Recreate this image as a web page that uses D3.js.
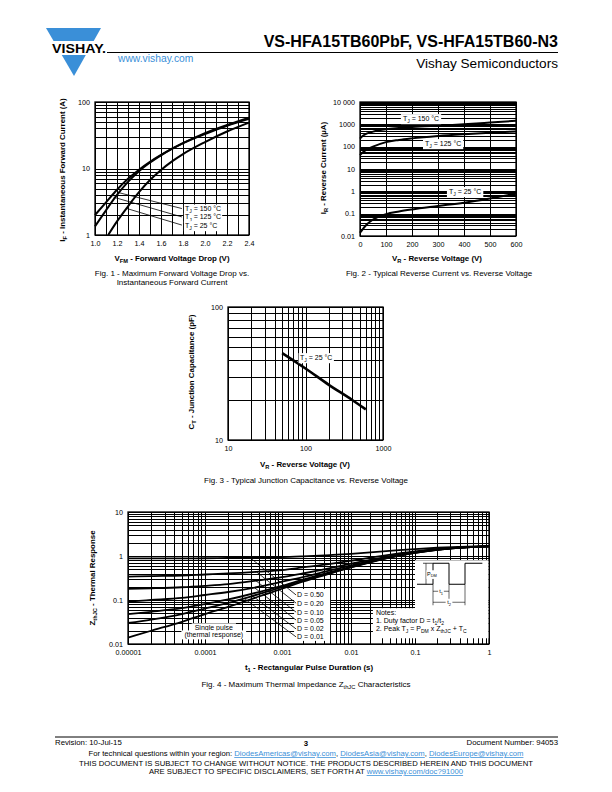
<!DOCTYPE html>
<html><head><meta charset="utf-8">
<script src="https://cdn.jsdelivr.net/npm/d3@7"></script>
<style>body{margin:0;background:#fff}svg{font-family:"Liberation Sans",Arial,Helvetica,sans-serif}</style>
</head><body>
<svg id="page" width="612" height="792" xmlns="http://www.w3.org/2000/svg"></svg>
<script>
// ---------------- DATA ----------------
// Fig 1: forward voltage (V) vs forward current (A)
const fig1V = [1.0, 1.1, 1.2, 1.3, 1.4, 1.5, 1.6, 1.8, 2.0, 2.2, 2.4];
const fig1I150 = [2.0, 3.1, 4.8, 7.0, 9.6, 12.6, 16, 24, 33, 44, 56];
const fig1I125 = [1.35, 2.35, 4.0, 6.3, 9.1, 12.3, 15.8, 24, 34, 45, 58];
const fig1V25 = [1.12, 1.2, 1.3, 1.4, 1.5, 1.6, 1.7, 1.8, 2.0, 2.2, 2.4];
const fig1I25 = [1.0, 1.6, 2.7, 4.4, 6.7, 9.5, 12.8, 16.5, 25, 36, 49];
const fig1Labels = ["150", "125", "25"];
const fig1LeaderFrom = [[1.79, 2.5], [1.79, 1.87], [1.79, 1.41]];
const fig1LeaderTo = [[1.2, 4.4], [1.17, 3.7], [1.29, 2.5]];
const fig1XTicks = [1.0, 1.2, 1.4, 1.6, 1.8, 2.0, 2.2, 2.4];
const fig1YTicks = [1, 10, 100];

// Fig 2: reverse voltage (V) vs reverse current (uA)
const fig2V = [0, 10, 25, 50, 100, 150, 200, 300, 400, 500, 600];
const fig2I150 = [230, 300, 380, 470, 600, 680, 750, 870, 1000, 1200, 1450];
const fig2I125 = [42, 55, 72, 100, 160, 200, 235, 300, 360, 420, 480];
const fig2I25 = [0.014, 0.02, 0.032, 0.055, 0.095, 0.125, 0.155, 0.22, 0.31, 0.48, 0.78];
const fig2Labels = ["150", "125", "25"];
const fig2LabelPos = [[165, 1900], [250, 145], [342, 1.03]];
const fig2XTicks = [0, 100, 200, 300, 400, 500, 600];
const fig2YTicks = [0.01, 0.1, 1, 10, 100, 1000, 10000];
const fig2YTickText = ["0.01", "0.1", "1", "10", "100", "1000", "10 000"];

// Fig 3: reverse voltage (V) vs junction capacitance (pF)
const fig3V = [50, 100, 200, 400, 600];
const fig3C = [45, 34.5, 26, 20, 17];
const fig3LabelPos = [85, 42];
const fig3XTicks = [10, 100, 1000];
const fig3YTicks = [10, 100];

// Fig 4: pulse duration (s) vs thermal response
const fig4T = [1e-5, 2e-5, 5e-5, 1e-4, 2e-4, 5e-4, 1e-3, 2e-3, 5e-3, 1e-2, 2e-2, 5e-2, 0.1, 0.2, 0.5, 1];
const fig4D50 = [0.88, 0.88, 0.88, 0.89, 0.90, 0.92, 0.94, 0.98, 1.05, 1.12, 1.21, 1.34, 1.44, 1.54, 1.64, 1.68];
const fig4D20 = [0.34, 0.35, 0.36, 0.38, 0.40, 0.44, 0.48, 0.55, 0.66, 0.78, 0.92, 1.12, 1.28, 1.44, 1.60, 1.67];
const fig4D10 = [0.18, 0.185, 0.195, 0.21, 0.23, 0.28, 0.33, 0.40, 0.53, 0.67, 0.82, 1.05, 1.23, 1.41, 1.59, 1.66];
const fig4D05 = [0.092, 0.10, 0.112, 0.13, 0.152, 0.20, 0.26, 0.33, 0.47, 0.61, 0.77, 1.02, 1.21, 1.40, 1.59, 1.66];
const fig4D02 = [0.048, 0.054, 0.065, 0.081, 0.103, 0.152, 0.21, 0.29, 0.43, 0.57, 0.74, 0.99, 1.19, 1.39, 1.58, 1.66];
const fig4D01 = [0.030, 0.036, 0.048, 0.064, 0.086, 0.136, 0.195, 0.274, 0.41, 0.56, 0.73, 0.99, 1.18, 1.38, 1.58, 1.66];
const fig4Single = [0.014, 0.020, 0.032, 0.048, 0.070, 0.12, 0.18, 0.26, 0.40, 0.55, 0.72, 0.98, 1.18, 1.38, 1.58, 1.66];
const fig4DLabels = ["D = 0.50", "D = 0.20", "D = 0.10", "D = 0.05", "D = 0.02", "D = 0.01"];
const fig4LabelZ = [0.13, 0.085, 0.053, 0.035, 0.022, 0.0145];
const fig4LeaderTo = [[3.9e-4, 0.9], [4.7e-4, 0.43], [4.4e-4, 0.29], [4.4e-4, 0.19], [4.0e-4, 0.13], [3.2e-4, 0.11]];
const fig4XTicks = [1e-5, 1e-4, 1e-3, 1e-2, 1e-1, 1];
const fig4XTickText = ["0.00001", "0.0001", "0.001", "0.01", "0.1", "1"];
const fig4YTicks = [0.01, 0.1, 1, 10];
const fig4YTickText = ["0.01", "0.1", "1", "10"];

// ---------------- HELPERS ----------------
const svg = d3.select("#page");
const BLUE = "#3a8fd8";
const snap = v => Math.round(v) + 0.5;

function addText(g, x, y, parts, o = {}) {
  const size = o.size || 7;
  const t = g.append("text").attr("x", x).attr("y", y)
    .attr("font-size", size)
    .attr("font-weight", o.bold ? "bold" : null)
    .attr("text-anchor", o.anchor || "start")
    .attr("fill", o.fill || "#000");
  if (o.rotate) t.attr("transform", `rotate(-90,${x},${y})`);
  let shifted = 0;
  parts.forEach(p => {
    const sp = t.append("tspan");
    if (typeof p === "string") {
      if (shifted) { sp.attr("dy", -shifted); shifted = 0; }
      sp.text(p);
    } else {
      const d = size * 0.3;
      sp.attr("dy", d - shifted).attr("font-size", size * 0.72).text(p.sub);
      shifted = d;
    }
  });
  if (o.bg !== undefined) {
    const b = t.node().getBBox();
    g.insert("rect", () => t.node())
      .attr("x", b.x - o.bg).attr("y", b.y - 0.5)
      .attr("width", b.width + 2 * o.bg).attr("height", b.height + 1)
      .attr("fill", "#fff");
  }
  return t;
}

function logGrid(min, max) {
  const out = [];
  for (let e = Math.floor(Math.log10(min)); e < Math.ceil(Math.log10(max)); e++)
    for (let k = 1; k <= 9; k++) {
      const v = k * Math.pow(10, e);
      if (v >= min * 0.999 && v <= max * 1.001) out.push(v);
    }
  out.push(max);
  return out;
}

function drawFrame(g, x, y, xGrid, yGrid) {
  const xr = x.range(), yr = y.range();
  const x0 = xr[0], x1 = xr[xr.length - 1], y0 = yr[0], y1 = yr[yr.length - 1];
  g.append("g").selectAll("line").data(xGrid).join("line")
    .attr("x1", d => snap(x(d))).attr("x2", d => snap(x(d))).attr("y1", y0).attr("y2", y1)
    .attr("stroke", "#000").attr("stroke-width", 1);
  g.append("g").selectAll("line").data(yGrid).join("line")
    .attr("y1", d => snap(y(d))).attr("y2", d => snap(y(d))).attr("x1", x0).attr("x2", x1)
    .attr("stroke", "#000").attr("stroke-width", 1);
  g.append("rect").attr("x", x0).attr("y", y1).attr("width", x1 - x0).attr("height", y0 - y1)
    .attr("fill", "none").attr("stroke", "#000").attr("stroke-width", 1.3);
}

function drawAxes(g, x, y, xt, yt, xf, yf) {
  const ax = g.append("g").attr("transform", `translate(0,${y.range()[0]})`)
    .call(d3.axisBottom(x).tickValues(xt).tickSize(0).tickPadding(6).tickFormat(xf));
  const ay = g.append("g").attr("transform", `translate(${x.range()[0]},0)`)
    .call(d3.axisLeft(y).tickValues(yt).tickSize(0).tickPadding(5).tickFormat(yf));
  [ax, ay].forEach(a => {
    a.select(".domain").remove();
    a.selectAll("text").attr("font-size", 7.2).attr("font-family", "'Liberation Sans',Arial,sans-serif").attr("fill", "#000");
  });
}

function curve(g, x, y, xs, ys, w) {
  const line = d3.line().x(d => x(d[0])).y(d => y(d[1])).curve(d3.curveMonotoneX);
  g.append("path").attr("d", line(d3.zip(xs, ys)))
    .attr("fill", "none").attr("stroke", "#000").attr("stroke-width", w);
}

// ---------------- HEADER ----------------
const hdr = svg.append("g");
hdr.append("path").attr("d", "M46,28 L101,28 L74,76 Z").attr("fill", BLUE);
hdr.append("rect").attr("x", 44).attr("y", 41).attr("width", 66).attr("height", 14).attr("fill", "#fff");
addText(hdr, 79, 53, ["VISHAY."], { size: 13, bold: true, anchor: "middle" }).attr("textLength", 54).attr("lengthAdjust", "spacingAndGlyphs");
addText(hdr, 558, 47, ["VS-HFA15TB60PbF, VS-HFA15TB60-N3"], { size: 16, bold: true, anchor: "end" });
hdr.append("line").attr("x1", 107).attr("x2", 558).attr("y1", 52.5).attr("y2", 52.5).attr("stroke", "#000").attr("stroke-width", 1);
addText(hdr, 118, 62, ["www.vishay.com"], { size: 10.3, fill: BLUE });
addText(hdr, 558, 68, ["Vishay Semiconductors"], { size: 13.6, anchor: "end" });

// ---------------- FIG 1 ----------------
{
  const g = svg.append("g");
  const x = d3.scaleLinear().domain([1.0, 2.4]).range([95, 249]);
  const y = d3.scaleLog().domain([1, 100]).range([235, 102]);
  const xGrid = d3.range(1.0, 2.401, 0.1);
  drawFrame(g, x, y, xGrid, logGrid(1, 100));
  drawAxes(g, x, y, fig1XTicks, fig1YTicks, d3.format(".1f"), d3.format("d"));
  curve(g, x, y, fig1V, fig1I150, 2);
  curve(g, x, y, fig1V, fig1I125, 2);
  curve(g, x, y, fig1V25, fig1I25, 2);
  fig1LeaderFrom.forEach((p, i) => {
    g.append("line").attr("x1", x(p[0])).attr("y1", y(p[1]))
      .attr("x2", x(fig1LeaderTo[i][0])).attr("y2", y(fig1LeaderTo[i][1]))
      .attr("stroke", "#000").attr("stroke-width", 0.8);
    addText(g, x(p[0]) + 3, y(p[1]) + 2.5, ["T", { sub: "J" }, ` = ${fig1Labels[i]} °C`], { size: 7, bg: 1 });
  });
  addText(g, 172, 261, ["V", { sub: "FM" }, " - Forward Voltage Drop (V)"], { size: 7.9, bold: true, anchor: "middle" });
  addText(g, 65, 170, ["I", { sub: "F" }, " - Instantaneous Forward Current (A)"], { size: 7.9, bold: true, anchor: "middle", rotate: true });
  addText(g, 172, 276, ["Fig. 1 - Maximum Forward Voltage Drop vs."], { size: 8, anchor: "middle" });
  addText(g, 172, 285, ["Instantaneous Forward Current"], { size: 8, anchor: "middle" });
}

// ---------------- FIG 2 ----------------
{
  const g = svg.append("g");
  const x = d3.scaleLinear().domain([0, 600]).range([360, 516]);
  const y = d3.scaleLog().domain([0.01, 10000]).range([236, 102]);
  drawFrame(g, x, y, d3.range(0, 601, 100), logGrid(0.01, 10000));
  drawAxes(g, x, y, fig2XTicks, fig2YTicks, d3.format("d"), (d, i) => fig2YTickText[i]);
  curve(g, x, y, fig2V, fig2I150, 2);
  curve(g, x, y, fig2V, fig2I125, 2);
  curve(g, x, y, fig2V, fig2I25, 2);
  fig2LabelPos.forEach((p, i) => {
    addText(g, x(p[0]), y(p[1]) + 2.5, ["T", { sub: "J" }, ` = ${fig2Labels[i]} °C`], { size: 7, bg: 2 });
  });
  addText(g, 437, 261, ["V", { sub: "R" }, " - Reverse Voltage (V)"], { size: 7.9, bold: true, anchor: "middle" });
  addText(g, 326, 168, ["I", { sub: "R" }, " - Reverse Current (µA)"], { size: 7.9, bold: true, anchor: "middle", rotate: true });
  addText(g, 439, 276, ["Fig. 2 - Typical Reverse Current vs. Reverse Voltage"], { size: 8, anchor: "middle" });
}

// ---------------- FIG 3 ----------------
{
  const g = svg.append("g");
  const x = d3.scaleLog().domain([10, 1000]).range([228, 383]);
  const y = d3.scaleLog().domain([10, 100]).range([440, 307]);
  drawFrame(g, x, y, logGrid(10, 1000), logGrid(10, 100));
  drawAxes(g, x, y, fig3XTicks, fig3YTicks, d3.format("d"), d3.format("d"));
  curve(g, x, y, fig3V, fig3C, 2.6);
  addText(g, x(fig3LabelPos[0]), y(fig3LabelPos[1]) + 2.5, ["T", { sub: "J" }, " = 25 °C"], { size: 7, bg: 1.5 });
  addText(g, 305, 467, ["V", { sub: "R" }, " - Reverse Voltage (V)"], { size: 7.9, bold: true, anchor: "middle" });
  addText(g, 194, 372, ["C", { sub: "T" }, " - Junction Capacitance (pF)"], { size: 7.9, bold: true, anchor: "middle", rotate: true });
  addText(g, 306, 483, ["Fig. 3 - Typical Junction Capacitance vs. Reverse Voltage"], { size: 8, anchor: "middle" });
}

// ---------------- FIG 4 ----------------
{
  const g = svg.append("g");
  const x = d3.scaleLog().domain([1e-5, 1e-4, 1e-3, 1e-2, 1e-1, 1]).range([128, 205, 282, 351, 415, 489]);
  const y = d3.scaleLog().domain([0.01, 10]).range([644, 512]);
  drawFrame(g, x, y, logGrid(1e-5, 1), logGrid(0.01, 10));
  drawAxes(g, x, y, fig4XTicks, fig4YTicks, (d, i) => fig4XTickText[i], (d, i) => fig4YTickText[i]);
  [fig4D50, fig4D20, fig4D10, fig4D05, fig4D02, fig4D01, fig4Single].forEach(s => curve(g, x, y, fig4T, s, 1.8));

  // D labels with white background
  const lx = x(1.6e-3);
  g.append("rect").attr("x", lx - 2).attr("y", y(fig4LabelZ[0]) - 6)
    .attr("width", 36).attr("height", y(fig4LabelZ[5]) - y(fig4LabelZ[0]) + 10).attr("fill", "#fff");
  fig4DLabels.forEach((lab, i) => {
    g.append("line").attr("x1", lx).attr("y1", y(fig4LabelZ[i]))
      .attr("x2", x(fig4LeaderTo[i][0])).attr("y2", y(fig4LeaderTo[i][1]))
      .attr("stroke", "#000").attr("stroke-width", 0.8);
    addText(g, lx + 1, y(fig4LabelZ[i]) + 2.5, [lab], { size: 7 });
  });

  // Single pulse
  addText(g, x(1.3e-4), y(0.021), ["Single pulse"], { size: 7, anchor: "middle", bg: 3 });
  addText(g, x(1.3e-4), y(0.0145), ["(thermal response)"], { size: 7, anchor: "middle", bg: 3 });

  // Notes box + pulse diagram
  const nx0 = x(0.022), ny0 = y(0.065), nx1 = x(0.98), ny1 = y(0.0135);
  const bx0 = x(0.1), by0 = y(0.8);
  g.append("rect").attr("x", bx0).attr("y", by0).attr("width", nx1 - bx0).attr("height", ny0 - by0 + 1).attr("fill", "#fff");
  g.append("rect").attr("x", nx0).attr("y", ny0).attr("width", nx1 - nx0).attr("height", ny1 - ny0).attr("fill", "#fff");
  addText(g, nx0 + 3, ny0 + 7, ["Notes:"], { size: 7 });
  addText(g, nx0 + 3, ny0 + 15, ["1. Duty factor D = t", { sub: "1" }, "/t", { sub: "2" }], { size: 7 });
  addText(g, nx0 + 3, ny0 + 23, ["2. Peak T", { sub: "J" }, " = P", { sub: "DM" }, " x Z", { sub: "thJC" }, " + T", { sub: "C" }], { size: 7 });

  // pulse waveform
  const hi = by0 + 3, lo = by0 + 24;
  const p0 = bx0 + 2, pA = bx0 + 18, pB = bx0 + 34, pC = bx0 + 50, pEnd = nx1 - 6;
  g.append("path").attr("d", `M${p0},${lo} L${pA},${lo} L${pA},${hi} L${pB},${hi} L${pB},${lo} L${pC},${lo} L${pC},${hi} L${pEnd},${hi}`)
    .attr("fill", "none").attr("stroke", "#000").attr("stroke-width", 1);
  g.append("line").attr("x1", bx0 + 8).attr("x2", pA).attr("y1", hi).attr("y2", hi).attr("stroke", "#000").attr("stroke-width", 0.7);
  g.append("line").attr("x1", bx0 + 11).attr("x2", bx0 + 11).attr("y1", hi).attr("y2", lo).attr("stroke", "#000").attr("stroke-width", 0.6);
  addText(g, bx0 + 12, (hi + lo) / 2 + 2, ["P", { sub: "DM" }], { size: 5.5, bg: 0.5 });
  [pA, pB, pC].forEach(px => g.append("line").attr("x1", px).attr("x2", px).attr("y1", lo).attr("y2", lo + 21).attr("stroke", "#000").attr("stroke-width", 0.6));
  g.append("line").attr("x1", pA).attr("x2", pB).attr("y1", lo + 7).attr("y2", lo + 7).attr("stroke", "#000").attr("stroke-width", 0.6);
  g.append("line").attr("x1", pA).attr("x2", pC).attr("y1", lo + 18).attr("y2", lo + 18).attr("stroke", "#000").attr("stroke-width", 0.6);
  addText(g, (pA + pB) / 2, lo + 9, ["t", { sub: "1" }], { size: 5.5, anchor: "middle", bg: 1 });
  addText(g, (pA + pC) / 2, lo + 20, ["t", { sub: "2" }], { size: 5.5, anchor: "middle", bg: 1.5 });

  addText(g, 309, 670, ["t", { sub: "1" }, " - Rectangular Pulse Duration (s)"], { size: 7.9, bold: true, anchor: "middle" });
  addText(g, 95, 578, ["Z", { sub: "thJC" }, " - Thermal Response"], { size: 7.9, bold: true, anchor: "middle", rotate: true });
  addText(g, 306, 687, ["Fig. 4 - Maximum Thermal Impedance Z", { sub: "thJC" }, " Characteristics"], { size: 8, anchor: "middle" });
}

// ---------------- FOOTER ----------------
const ft = svg.append("g");
const FS = 7.7;
ft.append("line").attr("x1", 55).attr("x2", 558).attr("y1", 737).attr("y2", 737).attr("stroke", "#000").attr("stroke-width", 1);
addText(ft, 55, 745, ["Revision: 10-Jul-15"], { size: 7.8 });
addText(ft, 306, 746, ["3"], { size: 7.8, bold: true, anchor: "middle" });
addText(ft, 558, 745, ["Document Number: 94053"], { size: 7.8, anchor: "end" });
{
  const t = ft.append("text").attr("x", 306).attr("y", 756).attr("font-size", FS).attr("text-anchor", "middle");
  t.append("tspan").text("For technical questions within your region: ");
  t.append("tspan").attr("fill", BLUE).attr("text-decoration", "underline").text("DiodesAmericas@vishay.com");
  t.append("tspan").text(", ");
  t.append("tspan").attr("fill", BLUE).attr("text-decoration", "underline").text("DiodesAsia@vishay.com");
  t.append("tspan").text(", ");
  t.append("tspan").attr("fill", BLUE).attr("text-decoration", "underline").text("DiodesEurope@vishay.com");
}
addText(ft, 306, 766, ["THIS DOCUMENT IS SUBJECT TO CHANGE WITHOUT NOTICE. THE PRODUCTS DESCRIBED HEREIN AND THIS DOCUMENT"], { size: FS, anchor: "middle" });
{
  const t = ft.append("text").attr("x", 306).attr("y", 774).attr("font-size", FS).attr("text-anchor", "middle");
  t.append("tspan").text("ARE SUBJECT TO SPECIFIC DISCLAIMERS, SET FORTH AT ");
  t.append("tspan").attr("fill", BLUE).attr("text-decoration", "underline").text("www.vishay.com/doc?91000");
}
</script>
</body></html>
